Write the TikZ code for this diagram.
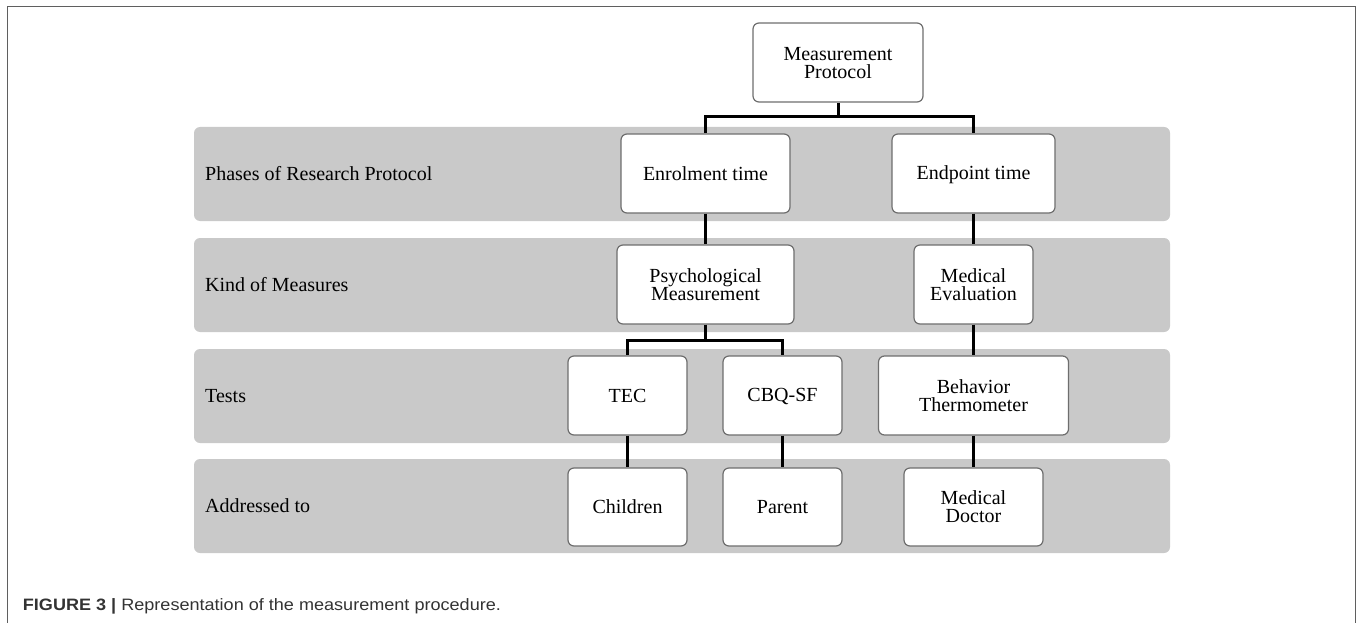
\documentclass[tikz,border=0pt]{standalone}
\usepackage{fontspec}
\setmainfont{Liberation Serif}
\newfontfamily\capfont{Liberation Sans}
\newcommand\mystrut{\rule[-2.3pt]{0pt}{17.8pt}}
\newcommand\boxfont{\fontsize{20}{18}\selectfont\lineskiplimit=-30pt\relax\lineskip=0pt\relax}
\begin{document}
\begin{tikzpicture}[x=1pt,y=-1pt,
  bandbox/.style={fill=bandgray,rounded corners=6pt},
  boxnode/.style={draw=boxgray,line width=1.2pt,fill=white,rounded corners=6pt,
    minimum height=79pt,align=center,inner sep=0pt,font=\boxfont},
  lbl/.style={anchor=west,inner sep=0pt,font=\fontsize{20}{22}\selectfont},
  conn/.style={line width=3pt,black}]
\definecolor{bandgray}{RGB}{201,201,201}
\definecolor{boxgray}{RGB}{110,110,110}
\definecolor{framegray}{RGB}{95,95,95}
\useasboundingbox (0,0) rectangle (1357,623);
% frame
\draw[framegray,line width=1.6pt] (7.5,623) -- (7.5,6.5) -- (1355.5,6.5) -- (1355.5,623);
% bands
\fill[bandbox] (194,127) rectangle (1170,221);
\fill[bandbox] (194,238) rectangle (1170,332);
\fill[bandbox] (194,349) rectangle (1170,443);
\fill[bandbox] (194,459) rectangle (1170,553);
% row labels
\node[lbl] (l1) at (205,173.5) {\mystrut Phases of Research Protocol};
\node[lbl] (l2) at (205,284.5) {\mystrut Kind of Measures};
\node[lbl] (l3) at (205,395.5) {\mystrut Tests};
\node[lbl] (l4) at (205,506) {\mystrut Addressed to};
% boxes
\node[boxnode,minimum width=170pt] (mp) at (838,62.5) {\mystrut Measurement\\\mystrut Protocol};
\node[boxnode,minimum width=169pt] (enr) at (705.5,173.5) {\mystrut Enrolment time};
\node[boxnode,minimum width=163pt] (end) at (973.5,173.5) {\mystrut Endpoint time};
\node[boxnode,minimum width=177pt] (psy) at (705.5,284.5) {\mystrut Psychological\\\mystrut Measurement};
\node[boxnode,minimum width=119pt] (med) at (973.5,284.5) {\mystrut Medical\\\mystrut Evaluation};
\node[boxnode,minimum width=119pt] (tec) at (627.5,395.5) {\mystrut TEC};
\node[boxnode,minimum width=119pt] (cbq) at (782.5,395.5) {\mystrut CBQ-SF};
\node[boxnode,minimum width=190pt] (beh) at (973.5,395.5) {\mystrut Behavior\\\mystrut Thermometer};
\node[boxnode,minimum width=119pt,minimum height=78pt] (chi) at (627.5,507) {\mystrut Children};
\node[boxnode,minimum width=119pt,minimum height=78pt] (par) at (782.5,507) {\mystrut Parent};
\node[boxnode,minimum width=139pt,minimum height=78pt] (doc) at (973.5,507) {\mystrut Medical\\\mystrut Doctor};
% connectors
\coordinate (j1) at (838,117);
\coordinate (j2) at (705.5,340.5);
\draw[conn] (mp.south) -- (j1);
\draw[conn] (j1) -| (enr.north);
\draw[conn] (j1) -| (end.north);
\draw[conn] (enr.south) -- (psy.north);
\draw[conn] (end.south) -- (med.north);
\draw[conn] (psy.south) -- (j2);
\draw[conn] (j2) -| (tec.north);
\draw[conn] (j2) -| (cbq.north);
\draw[conn] (med.south) -- (beh.north);
\draw[conn] (tec.south) -- (chi.north);
\draw[conn] (cbq.south) -- (par.north);
\draw[conn] (beh.south) -- (doc.north);
% caption
\node[anchor=base west,inner sep=0pt,font=\capfont\fontsize{16.5}{20}\selectfont,text=black!80] (cap) at (22.7,610.7)
  {\scalebox{1.095}[1]{\textbf{FIGURE 3 |} Representation of the measurement procedure.}};
\end{tikzpicture}
\end{document}
